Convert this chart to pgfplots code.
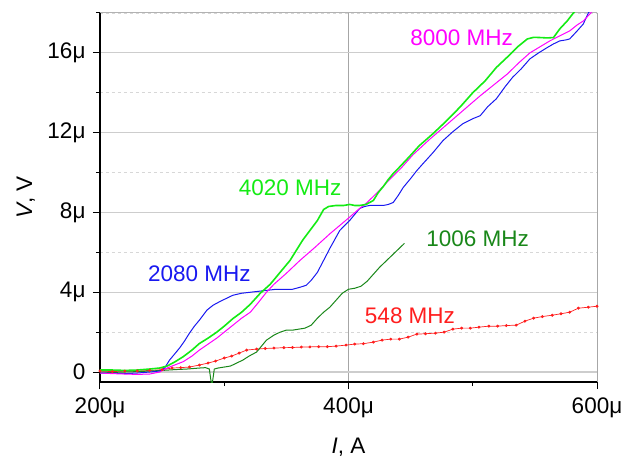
\documentclass[border=0pt]{standalone}
\usepackage{fontspec}
\setmainfont{Liberation Sans}
\usepackage{pgfplots}
\pgfplotsset{compat=1.18}
\newcommand{\fs}{\fontsize{22.5bp}{27bp}\selectfont}
\definecolor{cred}{RGB}{255,30,30}
\definecolor{cmag}{RGB}{255,0,255}
\definecolor{cgreen}{RGB}{20,235,20}
\definecolor{cblue}{RGB}{25,25,240}
\definecolor{cdgreen}{RGB}{25,135,25}
\definecolor{gmaj}{RGB}{205,205,205}
\definecolor{gmin}{RGB}{215,215,215}
\begin{document}
\begin{tikzpicture}
\begin{axis}[
  scale only axis,
  width=497bp, height=369bp,
  xmin=200, xmax=600, ymin=-0.5, ymax=18,
  axis lines*=left,
  axis line style={-, black, line width=1.1bp},
  xtick={200,400,600}, xticklabels={200μ,400μ,600μ},
  minor xtick={300,500},
  ytick={0,4,8,12,16}, yticklabels={0,4μ,8μ,12μ,16μ},
  minor ytick={2,6,10,14,18},
  tick align=outside,
  major tick length=7bp, minor tick length=4bp,
  tick style={black, line width=1bp},
  tick label style={font=\fs},
  yticklabel style={xshift=-4bp},
  xticklabel style={yshift=-5bp},
  ymajorgrids, yminorgrids, xmajorgrids,
  major grid style={gmaj, line width=1.2bp, solid},
  minor grid style={gmin, line width=0.7bp, dashed},
  x grid style={gray!70, line width=0.8bp},
  every axis x label/.style={at={(axis description cs:0.5,-0.176)}, anchor=center, font=\fs},
  every axis y label/.style={at={(axis description cs:-0.149,0.5)}, anchor=center, rotate=90, font=\fs},
  xlabel={\textit{I}, A},
  ylabel={\textit{V}, V},
  clip=true,
]
\draw[gray!60, line width=1bp] (rel axis cs:0,1) -- (rel axis cs:1,1) -- (rel axis cs:1,0);

% 548 MHz
\addplot[cred, line width=0.7bp, mark=*, mark size=1.1bp] coordinates {
(200,0.05)(210,0.02)(220,0.05)(230,0.05)(240,0.08)(250,0.12)(258,0.2)(265,0.22)(272,0.25)(280,0.35)(287,0.45)(293,0.55)(300,0.7)(306,0.8)(312,0.95)(318,1.1)(326,1.15)(333,1.18)(340,1.2)(348,1.22)(355,1.23)(362,1.25)(369,1.26)(376,1.27)(383,1.27)(390,1.3)(398,1.35)(405,1.4)(412,1.42)(420,1.5)(427,1.6)(434,1.65)(441,1.65)(448,1.75)(455,1.9)(462,1.92)(470,1.95)(477,2.0)(484,2.15)(491,2.2)(498,2.2)(505,2.25)(513,2.3)(520,2.3)(527,2.33)(535,2.35)(542,2.55)(549,2.7)(556,2.78)(564,2.85)(571,2.92)(578,3.0)(585,3.2)(593,3.25)(600,3.3)
};

% 1006 MHz
\addplot[cdgreen, line width=1bp] coordinates {
(200,0.0)(210,-0.02)(220,0.0)(230,0.02)(240,0.05)(250,0.08)(260,0.12)(270,0.15)(280,0.2)(285,0.22)(288,0.15)(289,-0.3)(290,-0.7)(291,-0.3)(292,0.15)(295,0.2)(300,0.25)(305,0.3)(310,0.45)(315,0.6)(320,0.8)(326,1.0)(330,1.3)(334,1.6)(340,1.85)(345,2.0)(350,2.1)(355,2.1)(360,2.15)(365,2.2)(370,2.35)(375,2.7)(380,3.0)(385,3.25)(390,3.6)(395,3.95)(400,4.15)(405,4.2)(410,4.3)(415,4.55)(420,4.9)(425,5.25)(430,5.55)(435,5.85)(440,6.15)(445,6.45)
};

% 2080 MHz
\addplot[cblue, line width=1bp] coordinates {
(200,-0.05)(210,-0.05)(220,-0.08)(230,-0.05)(240,0.0)(248,0.05)(252,0.2)(256,0.6)(260,0.9)(264,1.2)(268,1.55)(272,1.95)(276,2.3)(280,2.6)(286,3.1)(291,3.35)(297,3.55)(302,3.7)(307,3.85)(314,3.95)(321,4.0)(328,4.05)(335,4.1)(342,4.15)(350,4.15)(355,4.15)(361,4.25)(366,4.35)(370,4.6)(375,5.0)(380,5.6)(385,6.2)(389,6.65)(393,7.1)(397,7.35)(401,7.6)(405,7.9)(409,8.2)(413,8.3)(417,8.35)(422,8.35)(428,8.35)(432,8.4)(436,8.5)(440,8.85)(444,9.25)(450,9.7)(455,10.1)(460,10.45)(468,11.0)(476,11.6)(484,12.05)(492,12.45)(500,12.7)(506,12.85)(512,13.3)(519,13.7)(526,14.3)(532,14.77)(539,15.2)(546,15.7)(553,16.0)(560,16.27)(565,16.45)(570,16.6)(575,16.65)(578,16.7)(584,17.1)(589,17.45)(593,18.0)(598,18.4)
};

% 8000 MHz
\addplot[cmag, line width=1bp] coordinates {
(200,-0.05)(210,-0.08)(220,-0.1)(230,-0.12)(240,-0.1)(248,0.0)(254,0.2)(260,0.35)(267,0.52)(274,0.8)(280,1.1)(287,1.4)(294,1.7)(300,2.0)(307,2.35)(314,2.7)(321,3.0)(327,3.45)(334,4.0)(340,4.4)(350,4.95)(361,5.6)(373,6.25)(385,6.93)(393,7.35)(401,7.77)(408,8.15)(415,8.5)(424,9.05)(433,9.65)(442,10.2)(452,10.9)(465,11.65)(479,12.4)(492,13.1)(506,13.85)(517,14.4)(528,14.95)(537,15.5)(546,16.0)(554,16.3)(562,16.6)(570,16.85)(578,17.1)(584,17.4)(589,17.6)(595,18.0)(598,18.2)
};

% 4020 MHz
\addplot[cgreen, line width=1.6bp] coordinates {
(200,0.1)(210,0.1)(220,0.08)(230,0.1)(240,0.15)(248,0.2)(254,0.3)(260,0.5)(267,0.77)(274,1.1)(280,1.43)(287,1.7)(294,2.0)(300,2.3)(307,2.68)(314,3.0)(321,3.4)(329,3.95)(337,4.4)(345,5.0)(353,5.6)(358,6.1)(363,6.6)(369,7.1)(375,7.6)(380,8.15)(384,8.3)(390,8.35)(396,8.35)(401,8.4)(405,8.35)(409,8.35)(414,8.4)(420,8.6)(424,9.0)(428,9.3)(432,9.65)(436,9.95)(441,10.27)(449,10.8)(457,11.35)(468,11.95)(479,12.6)(490,13.3)(500,14.0)(510,14.6)(519,15.27)(528,15.8)(536,16.3)(544,16.7)(549,16.78)(554,16.77)(560,16.75)(565,16.77)(570,17.2)(576,17.6)(581,18.0)(585,18.3)
};

\node[text=cmag, font=\fs] at (axis cs:491,16.75) {8000 MHz};
\node[text=cgreen, font=\fs] at (axis cs:353,9.25) {4020 MHz};
\node[text=cblue, font=\fs] at (axis cs:280,4.95) {2080 MHz};
\node[text=cdgreen, font=\fs] at (axis cs:504,6.7) {1006 MHz};
\node[text=cred, font=\fs] at (axis cs:449.5,2.8) {548 MHz};
\end{axis}
\pgfresetboundingbox
\path (-100bp,-79bp) rectangle (534bp,382bp);
\end{tikzpicture}
\end{document}
